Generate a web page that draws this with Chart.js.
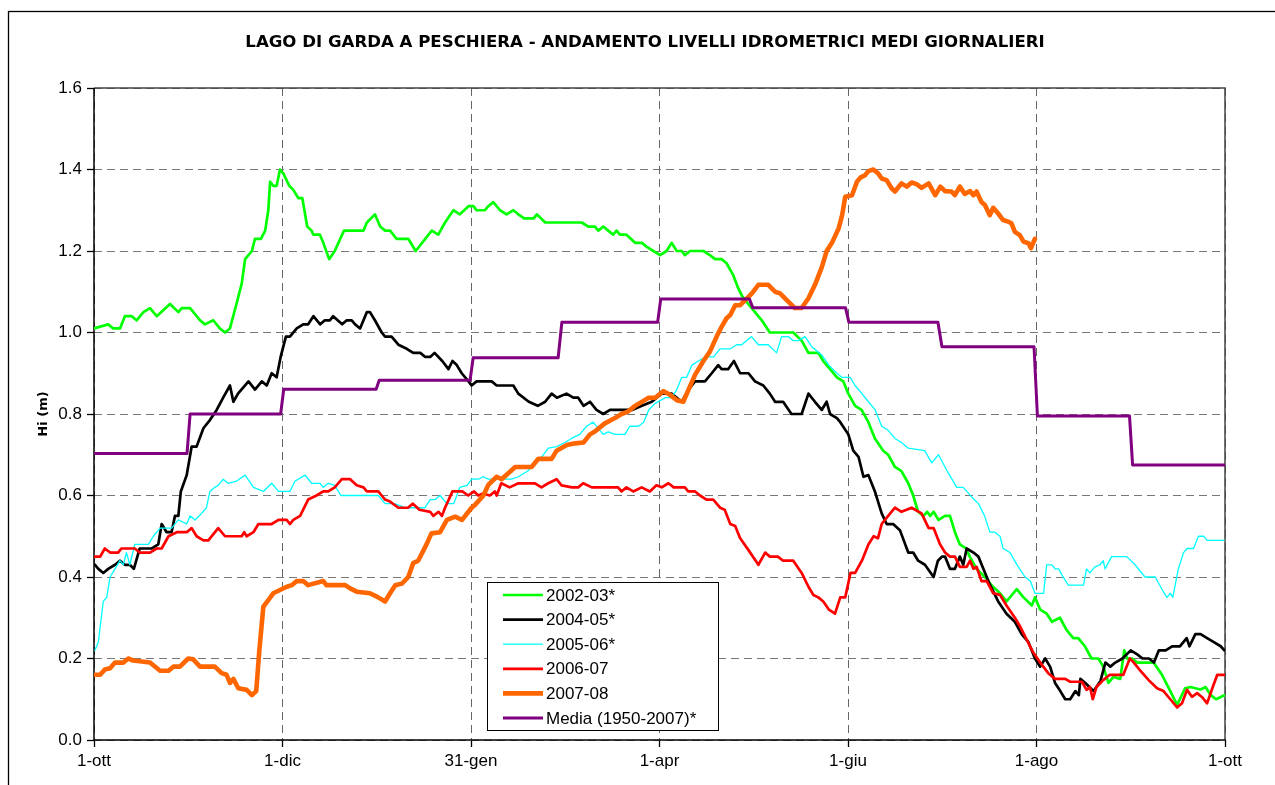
<!DOCTYPE html>
<html><head><meta charset="utf-8">
<script src="https://cdn.jsdelivr.net/npm/chart.js@4.4.0/dist/chart.umd.min.js"></script>
<style>html,body{margin:0;padding:0;background:#fff;}canvas{display:block;}</style>
</head><body>
<canvas id="c" width="1275" height="785"></canvas>
<script>
const chartTitle = 'LAGO DI GARDA A PESCHIERA - ANDAMENTO LIVELLI IDROMETRICI MEDI GIORNALIERI';
const yTitle = 'Hi (m)';
const tickDays = [0, 61, 122, 183, 244, 305, 366];
const tickLabels = ['1-ott', '1-dic', '31-gen', '1-apr', '1-giu', '1-ago', '1-ott'];
const yTicks = [0, 0.2, 0.4, 0.6, 0.8, 1.0, 1.2, 1.4, 1.6];
const seriesNames = ['2002-03*', '2004-05*', '2005-06*', '2006-07', '2007-08', 'Media (1950-2007)*'];

// [day from 1 Oct, level m]
const s2002_03 = [[0,1.01],[4.6,1.02],[6.2,1.01],[8.4,1.01],[10,1.04],[12.2,1.04],[13.8,1.03],[16,1.05],[18.1,1.06],[20.3,1.04],[24.6,1.07],[27.3,1.05],[28.4,1.06],[31.1,1.06],[34.3,1.03],[35.9,1.02],[38.6,1.03],[40.7,1.01],[42.4,1.00],[44,1.01],[46.1,1.07],[47.8,1.12],[48.9,1.18],[51.1,1.20],[52.1,1.23],[54,1.23],[55.4,1.25],[56.4,1.30],[57,1.37],[58,1.36],[59.1,1.36],[60.2,1.40],[61.3,1.39],[63.2,1.36],[64.5,1.35],[66.1,1.33],[67.4,1.33],[69,1.26],[70.4,1.25],[71,1.24],[73.1,1.24],[74.2,1.22],[76.1,1.18],[77.9,1.20],[80.9,1.25],[87.2,1.25],[88.3,1.27],[90.9,1.29],[92.6,1.26],[94.2,1.25],[95.8,1.25],[97.9,1.23],[101.7,1.23],[104.1,1.20],[109.3,1.25],[111.4,1.24],[113.6,1.27],[116.3,1.30],[118.4,1.29],[121.2,1.31],[122.8,1.31],[123.8,1.30],[126.5,1.30],[127.6,1.31],[129.2,1.32],[131.4,1.30],[133.5,1.29],[135.7,1.30],[137.3,1.29],[139.2,1.28],[142.3,1.28],[143.3,1.29],[146,1.27],[157.8,1.27],[160,1.26],[162.1,1.26],[163.2,1.25],[164.8,1.26],[166.4,1.25],[168,1.24],[169.1,1.25],[170.2,1.24],[172.3,1.24],[175.1,1.22],[177.3,1.22],[178.9,1.21],[181,1.20],[183.2,1.19],[185.3,1.20],[186.9,1.22],[188.6,1.20],[190.2,1.20],[191.2,1.19],[192.9,1.20],[197.2,1.20],[199.3,1.19],[201,1.18],[203.1,1.18],[204.7,1.17],[206.9,1.14],[208.4,1.11],[209.7,1.09],[211.7,1.07],[213.9,1.05],[216.1,1.03],[218.7,1.00],[226.3,1.00],[229,0.98],[231.2,0.95],[234.4,0.95],[236,0.93],[238.2,0.91],[240.4,0.89],[242.5,0.88],[244.1,0.85],[246.3,0.82],[248.4,0.81],[250.6,0.78],[252.7,0.74],[255.4,0.71],[257,0.70],[259.2,0.67],[261.3,0.66],[263.5,0.63],[265.1,0.60],[266.7,0.56],[268.4,0.55],[269.6,0.56],[270.6,0.55],[271.7,0.56],[273.3,0.54],[275.4,0.55],[277,0.55],[278.6,0.51],[280.2,0.48],[282.2,0.47],[283.4,0.45],[285.6,0.42],[288.3,0.40],[290.4,0.38],[293.2,0.36],[295.3,0.34],[296.4,0.35],[298.6,0.37],[300.8,0.35],[303.5,0.33],[304.5,0.35],[306.2,0.32],[308.3,0.31],[310,0.29],[312.6,0.30],[314.7,0.27],[316.9,0.25],[318.5,0.25],[320.7,0.23],[322.8,0.20],[325,0.20],[326.6,0.18],[328.3,0.14],[329.9,0.155],[332.1,0.15],[333.4,0.22],[334.3,0.20],[335.9,0.20],[337.6,0.19],[342.9,0.19],[345.6,0.16],[348.3,0.12],[350.5,0.086],[353.1,0.127],[354.8,0.13],[358.1,0.124],[359.7,0.13],[361.4,0.11],[363.1,0.10],[365.8,0.11]];

const s2004_05 = [[0.3,0.43],[1.4,0.42],[3,0.41],[4.6,0.42],[6.8,0.43],[8.4,0.44],[10,0.43],[11.6,0.43],[12.9,0.42],[14.8,0.47],[16.6,0.47],[18.7,0.47],[20.8,0.48],[21.9,0.53],[23.5,0.51],[25.1,0.51],[26.2,0.55],[27.3,0.55],[28.1,0.61],[30,0.65],[31.6,0.72],[33.2,0.72],[35.4,0.765],[37.5,0.785],[39.7,0.81],[41.8,0.84],[44,0.87],[45.1,0.83],[46.6,0.85],[50,0.88],[52.1,0.86],[54.3,0.88],[55.9,0.87],[57.5,0.90],[59.1,0.89],[60.4,0.94],[62.1,0.99],[63.4,0.99],[65.6,1.01],[67.7,1.02],[69.3,1.02],[71,1.04],[73.2,1.02],[74.7,1.03],[76.3,1.03],[77.4,1.04],[80.3,1.02],[81.8,1.03],[83.4,1.03],[84.5,1.02],[86.1,1.01],[88.3,1.05],[89.3,1.05],[90.9,1.03],[93.1,1.00],[94.2,0.99],[96.3,0.99],[98.5,0.97],[101.2,0.96],[103.3,0.95],[105.6,0.95],[107.2,0.94],[108.8,0.94],[110.2,0.95],[112.7,0.93],[114.7,0.91],[116,0.93],[117.4,0.92],[119,0.90],[121.2,0.88],[122.2,0.87],[123.8,0.88],[128.7,0.88],[130.3,0.87],[135.7,0.87],[137.3,0.85],[140.7,0.83],[143.6,0.82],[146,0.83],[148.1,0.85],[149.8,0.84],[152.9,0.85],[155.1,0.84],[156.7,0.84],[158.4,0.82],[160.5,0.83],[162.6,0.81],[164.8,0.80],[167,0.81],[170.2,0.81],[174.1,0.81],[177.3,0.82],[180.5,0.83],[183.7,0.85],[186.9,0.85],[188.6,0.84],[190.2,0.83],[192.4,0.86],[194.5,0.88],[197.7,0.88],[199.9,0.90],[202,0.92],[203.1,0.91],[205.2,0.91],[207.1,0.93],[209.1,0.90],[211.8,0.90],[213.9,0.88],[216.6,0.87],[218.7,0.85],[220.4,0.83],[223,0.83],[225.7,0.80],[229,0.80],[231.2,0.85],[233.3,0.83],[235.5,0.81],[237.1,0.83],[238.2,0.80],[240.4,0.79],[241.5,0.78],[244.1,0.75],[245.7,0.71],[247.4,0.695],[249,0.646],[250.6,0.65],[252.7,0.61],[254.9,0.556],[256.5,0.53],[258.6,0.53],[260.8,0.515],[263.5,0.46],[265.1,0.46],[266.7,0.44],[268.9,0.43],[271.7,0.40],[273.1,0.44],[274.4,0.45],[275.4,0.45],[277,0.42],[278.6,0.42],[280.2,0.45],[281.3,0.43],[282.4,0.47],[284.6,0.46],[286.2,0.45],[287.8,0.42],[290,0.38],[292.6,0.34],[295.3,0.31],[298,0.29],[300.2,0.26],[302.4,0.24],[304.5,0.20],[306.2,0.18],[307.8,0.20],[309.4,0.18],[311,0.14],[312.7,0.12],[314.3,0.10],[315.9,0.10],[317.6,0.12],[318.7,0.11],[319.2,0.15],[320.8,0.14],[323.5,0.12],[325.7,0.145],[327.3,0.19],[328.9,0.18],[330.5,0.19],[332.8,0.20],[335.5,0.22],[337.6,0.21],[339.3,0.20],[341.4,0.20],[343,0.19],[344.6,0.22],[346.8,0.22],[348.9,0.23],[351.4,0.23],[353.6,0.25],[354.5,0.23],[356.4,0.26],[358.1,0.26],[360.2,0.25],[362.4,0.24],[364.6,0.23],[365.8,0.22]];

const s2005_06 = [[0.3,0.22],[1.4,0.24],[3,0.34],[4.1,0.35],[5.2,0.40],[6.8,0.42],[8.4,0.44],[9.5,0.43],[10.5,0.46],[11.6,0.43],[13.2,0.48],[15.9,0.48],[17.6,0.48],[19.2,0.50],[21.4,0.52],[25.1,0.52],[27.3,0.54],[30,0.53],[31.1,0.55],[32.7,0.54],[34.8,0.556],[36.4,0.57],[37.5,0.61],[39.1,0.62],[40.2,0.625],[41.8,0.64],[43.4,0.63],[46.1,0.635],[48.9,0.65],[51.6,0.62],[54.8,0.61],[57.5,0.63],[59.7,0.61],[63.4,0.61],[65,0.635],[68.3,0.65],[70.4,0.63],[73.1,0.63],[74.2,0.62],[75.8,0.63],[77.9,0.625],[79.9,0.60],[92,0.60],[94.2,0.58],[97.3,0.58],[100.6,0.57],[107.1,0.57],[108.8,0.59],[110.4,0.59],[112,0.60],[114.2,0.58],[116.4,0.58],[118.4,0.62],[120.7,0.625],[122.2,0.64],[124.4,0.64],[125.9,0.646],[127.6,0.64],[135.1,0.64],[137.3,0.646],[140.4,0.66],[142.7,0.68],[144.9,0.695],[147,0.716],[149.7,0.72],[152.4,0.73],[154.5,0.74],[157.2,0.75],[159.4,0.77],[161.5,0.78],[164.8,0.75],[166.4,0.756],[168.6,0.75],[171.8,0.75],[173.4,0.77],[176.2,0.77],[177.9,0.78],[179.5,0.81],[181.6,0.826],[184.8,0.84],[186.9,0.84],[188.6,0.86],[190.2,0.89],[191.8,0.89],[193.5,0.92],[195.6,0.93],[197.8,0.94],[200.5,0.94],[202.6,0.96],[205.9,0.96],[208,0.97],[209.6,0.97],[212.8,0.99],[215,0.97],[218.2,0.97],[220.9,0.95],[222.5,0.99],[224.7,0.99],[226.3,0.98],[227.9,0.98],[230.1,0.99],[232.3,0.965],[235.5,0.945],[237.8,0.92],[240.4,0.90],[242,0.89],[244.7,0.89],[246.3,0.87],[248.5,0.85],[250.6,0.83],[252.8,0.81],[254.9,0.77],[257,0.76],[259.2,0.74],[261.3,0.73],[263.5,0.716],[268.8,0.71],[271.1,0.68],[273.3,0.70],[275.4,0.67],[276.1,0.66],[279.2,0.62],[281.3,0.62],[284.8,0.59],[286.2,0.58],[288.2,0.55],[289.9,0.51],[291.5,0.51],[293.2,0.50],[294.2,0.47],[296.4,0.46],[299.1,0.425],[301.3,0.40],[303,0.39],[304.5,0.36],[307.3,0.36],[308.3,0.43],[310,0.43],[311,0.42],[312.2,0.42],[313.2,0.405],[315.3,0.38],[320.2,0.38],[321.2,0.42],[322.3,0.41],[323.9,0.425],[325.5,0.43],[326.6,0.44],[327.2,0.42],[329.3,0.45],[334.2,0.45],[336.9,0.43],[340.1,0.40],[343.4,0.40],[345.6,0.37],[347.2,0.35],[348.3,0.36],[349.1,0.35],[350.9,0.42],[352.6,0.46],[353.7,0.47],[355.8,0.47],[357.4,0.50],[359.1,0.50],[360.2,0.49],[365.7,0.49]];

const s2006_07 = [[0.3,0.45],[2,0.45],[3.5,0.47],[5.2,0.46],[7.8,0.46],[8.9,0.47],[13.2,0.47],[14.8,0.46],[18.1,0.46],[20.3,0.47],[21.9,0.47],[24.1,0.50],[26.8,0.51],[30,0.51],[31.6,0.52],[33.2,0.50],[35.4,0.49],[37,0.49],[40.2,0.52],[42.4,0.50],[47.8,0.50],[48.6,0.51],[49.4,0.50],[51.6,0.51],[53.2,0.53],[57.5,0.53],[59.7,0.54],[62.4,0.54],[63.4,0.53],[64.5,0.54],[66.7,0.55],[69.3,0.59],[72,0.60],[74.2,0.61],[75.8,0.61],[77.9,0.62],[80.2,0.64],[82.9,0.64],[85,0.625],[87.2,0.62],[88.3,0.61],[92,0.61],[93.1,0.60],[94.2,0.59],[95.8,0.585],[98.5,0.57],[101.6,0.57],[103.2,0.58],[105.3,0.565],[108.8,0.56],[109.8,0.55],[111.5,0.56],[112.6,0.55],[113.6,0.57],[116,0.61],[119.2,0.61],[121.1,0.60],[123,0.61],[124.3,0.60],[125.9,0.605],[128.1,0.60],[129.7,0.61],[130.3,0.60],[131.8,0.63],[134.5,0.62],[137.3,0.63],[142.7,0.63],[144.8,0.62],[147,0.63],[149.7,0.64],[151.3,0.625],[154.7,0.62],[156.7,0.62],[158.3,0.63],[161.1,0.62],[169.6,0.62],[170.7,0.61],[172.3,0.62],[174.5,0.61],[177.2,0.62],[179.9,0.61],[182,0.625],[183.7,0.62],[185.9,0.63],[187.6,0.62],[191.2,0.62],[192.3,0.61],[194.5,0.61],[196.1,0.60],[198.2,0.59],[200.4,0.59],[202.6,0.57],[204.1,0.565],[205.9,0.53],[207.5,0.525],[209.1,0.495],[211.8,0.466],[215,0.43],[217.2,0.46],[218.7,0.45],[221.3,0.45],[223,0.44],[226.3,0.44],[229,0.41],[231.2,0.376],[232.8,0.356],[234.4,0.35],[236,0.34],[237.8,0.32],[239.8,0.31],[241.5,0.35],[243.1,0.35],[244.8,0.41],[246.3,0.41],[248.5,0.44],[250.6,0.48],[252.3,0.50],[253.7,0.495],[254.9,0.53],[257,0.55],[259.2,0.57],[261.3,0.56],[264.6,0.57],[267.8,0.556],[270.1,0.52],[271.7,0.52],[273.8,0.48],[275.4,0.46],[277,0.45],[278.6,0.45],[280.2,0.425],[282.4,0.425],[283.5,0.44],[284.6,0.42],[285.6,0.425],[287.2,0.39],[288.9,0.39],[291,0.36],[293.2,0.356],[295.3,0.33],[298,0.30],[299.6,0.28],[301.9,0.245],[304,0.214],[306.2,0.19],[308.8,0.164],[311,0.15],[314.3,0.15],[315.9,0.143],[319.7,0.143],[321.2,0.123],[322.3,0.13],[323.2,0.10],[324.4,0.13],[326.6,0.147],[328.7,0.16],[333.1,0.16],[335.2,0.20],[336.5,0.19],[338.6,0.17],[341.3,0.147],[344,0.127],[346.1,0.12],[348.3,0.10],[350.5,0.08],[352.1,0.09],[353.7,0.123],[355.3,0.106],[357,0.115],[358.6,0.105],[360.2,0.09],[361.9,0.127],[363.5,0.16],[365.7,0.16]];

const s2007_08 = [[0.3,0.16],[2,0.16],[3.5,0.173],[5.2,0.176],[6.8,0.19],[9.5,0.19],[11.1,0.20],[12.7,0.195],[18.1,0.19],[21.4,0.17],[24.1,0.17],[25.7,0.18],[27.8,0.18],[30.5,0.20],[32.1,0.198],[34.3,0.18],[39.1,0.18],[41.3,0.164],[42.9,0.16],[44,0.14],[45.1,0.15],[46.7,0.127],[49.4,0.123],[51.1,0.11],[52.5,0.12],[53.5,0.22],[54.8,0.327],[56.4,0.343],[58,0.36],[60.2,0.368],[62.4,0.376],[64,0.38],[65.6,0.39],[67.7,0.39],[69.3,0.38],[74.2,0.39],[75.2,0.38],[81.3,0.38],[82.9,0.372],[85,0.364],[89.3,0.36],[92,0.35],[94.2,0.34],[95.8,0.36],[97.5,0.38],[99.7,0.384],[101.7,0.40],[103.3,0.434],[104.9,0.44],[107.6,0.48],[109.2,0.507],[112,0.51],[114.2,0.54],[116.9,0.548],[119.1,0.54],[122.2,0.57],[123.3,0.577],[126,0.60],[127.6,0.626],[130.3,0.646],[131.9,0.64],[136.3,0.67],[141.6,0.67],[143.8,0.69],[148.1,0.69],[149.7,0.71],[153,0.724],[155.7,0.728],[158.4,0.73],[160.5,0.75],[162.1,0.757],[165.3,0.777],[168.6,0.79],[170.7,0.80],[172.8,0.806],[175.1,0.82],[179.5,0.84],[181.6,0.84],[184.3,0.856],[186.4,0.847],[188.6,0.834],[190.7,0.83],[192.4,0.86],[194.5,0.896],[197.2,0.93],[199.3,0.953],[201.5,0.99],[203.1,1.014],[204.7,1.035],[205.9,1.043],[207.5,1.067],[209.1,1.067],[210.8,1.08],[212.9,1.096],[215,1.117],[218.2,1.117],[220.4,1.10],[222,1.096],[224.1,1.08],[226.8,1.06],[229,1.06],[231.2,1.084],[233.3,1.117],[235.5,1.16],[237.1,1.20],[238.8,1.22],[241,1.256],[242.1,1.288],[243.1,1.333],[245.3,1.337],[246.9,1.37],[248,1.38],[249.5,1.386],[250.6,1.396],[252.2,1.40],[253.8,1.39],[254.9,1.378],[256.5,1.374],[258.1,1.354],[259.2,1.346],[261.3,1.366],[263,1.358],[264.6,1.368],[266.2,1.364],[267.8,1.355],[270.1,1.366],[272.2,1.337],[273.9,1.358],[275.4,1.347],[277.5,1.346],[278.6,1.337],[280.2,1.358],[281.8,1.34],[283.5,1.347],[284.6,1.337],[285.6,1.346],[287.2,1.32],[288.3,1.313],[289.9,1.288],[291,1.306],[292.6,1.292],[294.2,1.276],[295.8,1.272],[296.9,1.268],[298,1.247],[299.6,1.239],[300.8,1.223],[302.4,1.219],[303.2,1.207],[304.5,1.23]];

const sMedia = [[0,0.703],[30.1,0.703],[31.1,0.80],[60.4,0.80],[61.4,0.861],[91.3,0.861],[92.3,0.883],[121.7,0.883],[122.7,0.938],[150.2,0.938],[151.4,1.025],[182.4,1.025],[183.4,1.082],[212.1,1.082],[213.2,1.061],[243.2,1.061],[244.3,1.025],[273.1,1.025],[274.4,0.965],[304.2,0.965],[305.3,0.795],[335.1,0.795],[336.1,0.675],[366,0.675]];

const seriesData = [s2002_03, s2004_05, s2005_06, s2006_07, s2007_08, sMedia];
const seriesColors = ['#00FF00', '#000000', '#00FFFF', '#FF0000', '#FF6600', '#800080'];
const seriesWidths = [2.7, 2.7, 1.3, 2.7, 4.6, 3];

const decor = {
  id: 'decor',
  beforeDraw(chart) {
    const c = chart.ctx;
    c.save();
    c.fillStyle = '#fff';
    c.fillRect(0, 0, chart.width, chart.height);
    c.strokeStyle = '#000';
    c.lineWidth = 1.3;
    c.strokeRect(8.5, 11.5, 1320, 820);
    c.restore();
  },
  beforeDatasetsDraw(chart) {
    const a = chart.chartArea, c = chart.ctx;
    c.save();
    c.setLineDash([]);
    c.strokeStyle = '#444';
    c.lineWidth = 1.5;
    c.beginPath();
    c.moveTo(a.left, a.top); c.lineTo(a.right, a.top); c.lineTo(a.right, a.bottom);
    c.stroke();
    c.strokeStyle = '#000';
    c.beginPath();
    c.moveTo(a.left, a.top); c.lineTo(a.left, a.bottom); c.lineTo(a.right, a.bottom);
    c.stroke();
    c.restore();
  },
  afterDraw(chart) {
    const c = chart.ctx;
    c.save();
    c.fillStyle = '#000';
    c.font = 'bold 16.6px "DejaVu Sans"';
    c.textAlign = 'center';
    c.textBaseline = 'middle';
    c.fillText(chartTitle, 645, 43);
    // legend
    const bx = 487.5, by = 582.5, bw = 231, bh = 148;
    c.fillStyle = '#fff';
    c.fillRect(bx, by, bw, bh);
    c.strokeStyle = '#000';
    c.lineWidth = 1;
    c.strokeRect(bx, by, bw, bh);
    c.font = '17px "Liberation Sans"';
    c.textAlign = 'left';
    c.textBaseline = 'middle';
    seriesNames.forEach((n, i) => {
      const y = 595 + i * 24.6;
      c.strokeStyle = seriesColors[i];
      c.lineWidth = seriesWidths[i];
      c.beginPath();
      c.moveTo(503, y); c.lineTo(543, y);
      c.stroke();
      c.fillStyle = '#000';
      c.fillText(n, 546, y + 1);
    });
    c.restore();
  }
};

new Chart(document.getElementById('c'), {
  type: 'line',
  data: {
    datasets: seriesData.map((d, i) => ({
      label: seriesNames[i],
      data: d.map(p => ({x: p[0], y: p[1]})),
      borderColor: seriesColors[i],
      backgroundColor: seriesColors[i],
      borderWidth: seriesWidths[i],
      pointRadius: 0,
      fill: false,
      tension: 0,
      order: 6 - i
    }))
  },
  options: {
    responsive: false,
    animation: false,
    devicePixelRatio: 1,
    layout: {padding: {left: 0, top: 88, right: 50, bottom: 0}},
    plugins: {legend: {display: false}, title: {display: false}, tooltip: {enabled: false}},
    elements: {line: {borderJoinStyle: 'round', borderCapStyle: 'round'}},
    scales: {
      x: {
        type: 'linear', min: 0, max: 366,
        afterBuildTicks: s => { s.ticks = tickDays.map(v => ({value: v})); },
        afterFit: s => { s.height = 45; },
        ticks: {
          callback: (v, i) => tickLabels[i],
          color: '#000', font: {family: 'Liberation Sans', size: 17},
          padding: 4, maxRotation: 0, autoSkip: false
        },
        grid: {color: '#666', lineWidth: 1, tickLength: 7, tickColor: '#000', tickBorderDash: [], tickWidth: 1.3},
        border: {display: false, dash: [8, 5]}
      },
      y: {
        min: 0, max: 1.6,
        afterBuildTicks: s => { s.ticks = yTicks.map(v => ({value: v})); },
        afterFit: s => { s.width = 94; },
        ticks: {
          callback: v => v.toFixed(1),
          color: '#000', font: {family: 'Liberation Sans', size: 17},
          padding: 5
        },
        title: {
          display: true, text: yTitle, color: '#000',
          font: {family: 'DejaVu Sans', weight: 'bold', size: 13},
          padding: {top: 36, bottom: 0}
        },
        grid: {color: '#777', lineWidth: 1, tickLength: 7, tickColor: '#000', tickBorderDash: [], tickWidth: 1.3},
        border: {display: false, dash: [8, 5]}
      }
    }
  },
  plugins: [decor]
});
</script>
</body></html>
